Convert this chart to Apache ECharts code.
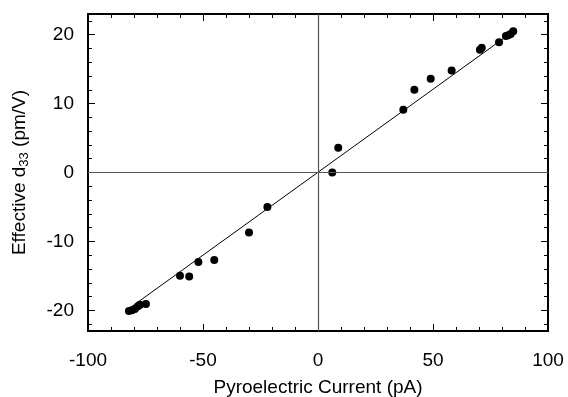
<!DOCTYPE html>
<html>
<head>
<meta charset="utf-8">
<script src="https://cdn.jsdelivr.net/npm/echarts@6/dist/echarts.min.js"></script>
<style>
html,body{margin:0;padding:0;background:#fff;}
#chart{width:568px;height:397px;}
</style>
</head>
<body>
<div id="chart"></div>
<script>
// Data
var currentPA = [-82.2, -80.9, -79.6, -78.3, -77.4, -74.8, -60.0, -56.0, -52.0, -45.1, -30.0, -22.0, 6.2, 8.8, 37.1, 41.9, 49.0, 58.1, 70.4, 71.2, 78.7, 81.7, 82.7, 83.8, 84.9];
var d33 = [-20.1, -20.0, -19.8, -19.4, -19.2, -19.1, -15.0, -15.1, -13.0, -12.7, -8.7, -5.0, 0.0, 3.6, 9.1, 12.0, 13.6, 14.8, 17.8, 18.1, 18.9, 19.8, 19.9, 20.1, 20.5];
var fitX = [-82, 85];
var fitY = [-19.7, 20.5];
var xTicks = [-100, -50, 0, 50, 100];
var xMinorTicks = [-90, -80, -70, -60, -40, -30, -20, -10, 10, 20, 30, 40, 60, 70, 80, 90];
var yTicks = [-20, -10, 0, 10, 20];
var yMinorTicks = [-22, -18, -16, -14, -12, -8, -6, -4, -2, 2, 4, 6, 8, 12, 14, 16, 18, 22];
var xRange = [-100, 100];
var yRange = [-23, 23];

var FONT = "'Liberation Sans', Arial, Helvetica, sans-serif";
var chart = echarts.init(document.getElementById('chart'));

function xAx(pos, ticks, len, showLabel, extra) {
  var a = {
    type: 'value', position: pos, min: xRange[0], max: xRange[1],
    axisLine: {show: true, onZero: false, lineStyle: {color: '#000', width: 2}},
    axisTick: {show: true, inside: true, length: len, customValues: ticks, lineStyle: {color: '#000', width: 1}},
    axisLabel: {show: showLabel, customValues: ticks, color: '#000', fontSize: 19, fontFamily: FONT, margin: 20},
    splitLine: {show: false}
  };
  return Object.assign(a, extra || {});
}
function yAx(pos, ticks, len, showLabel, extra) {
  var a = {
    type: 'value', position: pos, min: yRange[0], max: yRange[1],
    axisLine: {show: true, onZero: false, lineStyle: {color: '#000', width: 2}},
    axisTick: {show: true, inside: true, length: len, customValues: ticks, lineStyle: {color: '#000', width: 1}},
    axisLabel: {show: showLabel, customValues: ticks, color: '#000', fontSize: 19, fontFamily: FONT, margin: 14},
    splitLine: {show: false}
  };
  return Object.assign(a, extra || {});
}

var scatterData = currentPA.map(function (x, i) { return [x, d33[i]]; });
var fitData = fitX.map(function (x, i) { return [x, fitY[i]]; });

chart.setOption({
  animation: false,
  backgroundColor: '#fff',
  grid: {left: 88, right: 20, top: 14, bottom: 66, containLabel: false, outerBoundsMode: 'none'},
  xAxis: [
    xAx('bottom', xTicks, 7, true, {
      name: 'Pyroelectric Current (pA)', nameLocation: 'middle', nameGap: 47,
      nameTextStyle: {color: '#000', fontSize: 19, fontFamily: FONT}
    }),
    xAx('bottom', xMinorTicks, 4, false),
    xAx('top', xTicks, 7, false),
    xAx('top', xMinorTicks, 4, false)
  ],
  yAxis: [
    yAx('left', yTicks, 7, true, {
      name: 'Effective d{sub|33} (pm/V)', nameLocation: 'middle', nameGap: 57,
      nameTextStyle: {color: '#000', fontSize: 19, fontFamily: FONT,
        rich: {sub: {fontSize: 13, fontFamily: FONT, color: '#000', padding: [10, 0, 0, 0]}}}
    }),
    yAx('left', yMinorTicks, 4, false),
    yAx('right', yTicks, 7, false),
    yAx('right', yMinorTicks, 4, false)
  ],
  series: [
    {
      type: 'line', data: fitData, xAxisIndex: 0, yAxisIndex: 0,
      showSymbol: false, symbol: 'none', silent: true,
      lineStyle: {color: '#000', width: 1},
      markLine: {
        silent: true, symbol: 'none', label: {show: false},
        lineStyle: {color: '#555', width: 1.2, type: 'solid'},
        data: [{xAxis: 0}, {yAxis: 0}]
      },
      z: 2
    },
    {
      type: 'scatter', data: scatterData, xAxisIndex: 0, yAxisIndex: 0,
      symbol: 'circle', symbolSize: 8,
      itemStyle: {color: '#000', opacity: 1}, z: 3
    }
  ]
});
</script>
</body>
</html>
